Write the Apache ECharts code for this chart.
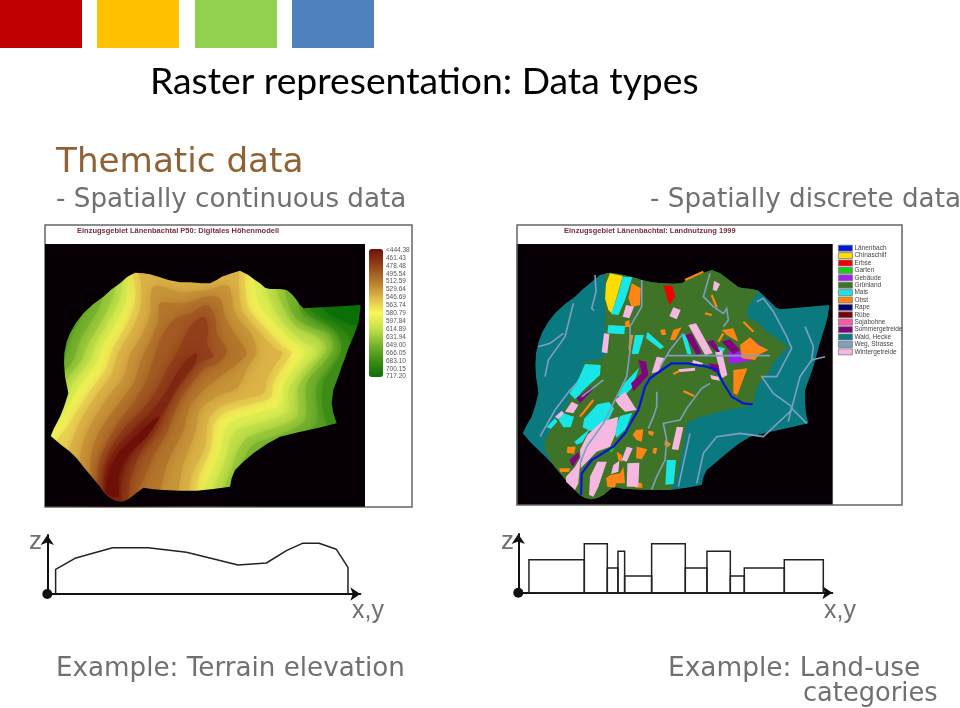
<!DOCTYPE html>
<html>
<head>
<meta charset="utf-8">
<style>
  html, body { margin: 0; padding: 0; background: #fff; overflow: hidden; }
  #chart { width: 960px; height: 708px; }
</style>
</head>
<body>
<div id="chart"></div>
<script src="https://cdn.jsdelivr.net/npm/echarts@6/dist/echarts.min.js"></script>
<script>

// elevation map
var elevTicks = ['<444.38','461.43','478.48','495.54','512.59','529.64','546.69','563.74','580.79','597.84','614.89','631.94','649.00','666.05','683.10','700.15','717.20'];
var elevColors = ['#6e0f08','#92401a','#b5782c','#dcb448','#f8f85a','#c4e04a','#78b32e','#3c8c16','#0c6f06'];
var elevOutline = [240,190,262,170,285,158,310,160,330,163,360,172,385,180,420,187,450,187,485,190,510,190,530,180,545,170,575,160,600,152,625,165,645,180,660,190,675,203,690,207,720,207,740,210,755,222,770,240,780,255,790,265,850,262,962,255,958,290,955,310,940,350,925,385,915,415,905,440,893,475,880,510,875,550,880,580,890,610,830,625,775,637,720,650,680,672,640,700,610,725,585,750,575,775,570,800,520,807,470,812,420,812,370,810,340,808,310,803,290,818,275,830,260,840,245,845,225,842,205,830,190,815,180,800,155,770,130,740,110,715,90,695,60,672,32,648,42,625,60,590,72,560,85,520,80,495,75,470,72,430,73,400,80,365,90,340,108,308,130,280,160,252,190,230,215,208];
var elevBase = [0,60,1000,60,1000,900,0,900];

var westLevels = [597, 614, 631, 649, 666];
var westContours = [
  [258,120,262,215,255,255,226,315,190,375,170,430,125,490,88,550,55,600,20,640,0,640,0,120],
  [245,120,245,210,235,250,205,305,170,365,150,420,105,480,70,535,40,590,10,625,0,625,0,120],
  [225,150,222,220,205,265,175,320,145,370,125,420,85,470,60,510,30,540,0,540,0,150],
  [190,190,175,265,150,310,120,360,100,420,75,450,40,470,0,470,0,190],
  [150,230,120,300,95,350,75,410,60,440,20,440,20,230]
];
var eastLevels = [597, 614, 631, 649, 666, 683, 700, 717];
var eastContours = [
  [640,120,645,190,657,255,705,310,755,360,795,395,760,445,730,495,722,555,650,580,575,605,550,635,540,695,505,775,485,840,1000,840,1000,120],
  [670,120,680,205,700,265,740,320,790,365,835,395,790,450,745,510,742,575,670,605,590,630,570,660,560,710,530,780,510,840,1000,840,1000,120],
  [700,170,715,225,735,270,770,320,825,345,860,385,820,440,775,500,770,590,700,625,620,655,590,700,575,750,550,840,1000,840,1000,170],
  [740,200,745,250,765,290,810,320,865,340,880,385,850,430,800,490,795,600,730,640,640,675,610,720,590,760,575,840,1000,840,1000,200],
  [780,250,790,285,830,300,880,330,905,385,870,440,830,500,830,610,760,660,1000,700,1000,250],
  [790,262,815,290,860,310,895,345,905,390,880,440,850,490,848,560,870,620,1000,620,1000,250],
  [810,265,840,290,880,305,920,340,940,370,1000,360,1000,250],
  [850,260,870,285,905,300,945,315,1000,300,1000,240]
];
var basinLevels = [563, 546, 529, 512, 495, 478, 461, 444];
var basinContours = [
  [285,120,610,120,614,190,626,265,678,328,728,380,755,396,730,438,700,487,692,533,632,553,555,578,522,612,512,685,478,765,455,840,40,900,50,665,82,620,112,570,152,510,197,448,217,388,252,328,280,265,287,215],
  [305,120,590,130,596,195,608,272,660,338,708,388,728,398,705,435,680,480,672,518,620,535,540,560,505,600,495,680,458,760,430,840,90,900,85,700,105,640,130,585,170,525,215,460,235,398,270,338,298,275,305,215],
  [340,200,420,215,500,210,555,195,570,205,585,280,635,345,650,400,630,430,610,470,590,505,530,530,480,570,465,640,430,730,395,840,140,900,120,720,135,650,165,590,205,530,250,470,270,405,305,345,330,285],
  [360,250,430,250,500,230,540,235,555,290,590,350,620,400,580,440,540,470,490,510,450,560,430,630,385,720,340,840,170,880,150,730,170,650,200,600,245,540,285,480,305,415,330,365,355,300],
  [400,300,450,280,500,255,525,290,530,340,560,390,540,425,490,450,440,510,410,560,380,640,340,710,300,800,285,840,190,860,175,740,200,670,240,600,285,540,320,480,340,420,360,360],
  [450,320,490,290,505,320,500,370,520,410,480,425,440,470,400,530,370,590,340,640,300,700,270,780,260,840,200,850,190,760,215,680,265,610,315,560,355,500,385,440,410,400,430,360],
  [440,420,470,400,465,430,420,490,380,560,340,615,290,680,255,740,240,800,245,845,195,840,195,760,225,690,280,630,330,580,375,520,410,460],
  [340,600,360,590,320,650,270,700,235,770,235,830,200,820,205,760,235,700,290,645]
];

// land use map
var landOutline = [240,190,270,165,300,158,320,161,340,165,368,172,395,180,425,187,455,190,490,191,515,190,532,180,550,172,578,160,605,150,630,160,650,175,670,190,685,202,700,205,725,207,745,212,765,230,785,250,797,262,810,268,880,262,958,255,953,290,945,320,935,352,925,385,918,412,910,440,898,475,885,510,885,550,888,580,895,610,830,625,775,637,720,650,685,672,650,700,620,725,590,750,580,772,575,795,530,803,480,810,425,810,370,808,340,806,310,800,295,812,280,825,262,834,245,838,225,834,210,825,192,808,175,790,152,762,130,735,108,712,85,690,60,665,38,640,50,615,65,590,76,556,85,520,82,495,78,470,76,435,78,400,85,368,95,340,113,308,135,280,165,252,195,230,218,208];
var waldInlets = [
  [310,340,355,345,360,400,335,470,300,500,270,470,265,440,290,420],
  [455,555,480,550,470,575,450,578],
  [130,650,170,640,160,690,135,690],
  [650,545,680,548,675,570,650,570],
  [605,322,620,322,618,345,605,345]
];
var gruenland = [
  [285,160,320,161,340,165,368,172,395,180,425,187,455,190,490,191,515,190,532,180,550,172,578,160,605,150,630,160,650,175,670,190,685,202,700,205,725,207,745,212,715,260,710,290,745,310,770,335,835,380,795,420,780,450,740,500,730,555,650,570,570,590,530,610,520,680,495,790,480,810,425,810,370,808,340,806,310,800,295,812,280,825,262,834,245,838,225,834,210,825,192,808,175,790,152,762,130,735,105,690,105,660,125,625,150,590,180,540,190,500,215,470,225,425,270,420,290,400,285,290]
];
var chinaschilf = [[300,160,338,168,322,225,305,280,295,270,285,235,288,190]];
var erbse = [[460,197,487,197,495,230,478,255]];
var garten = [[297,690,315,680,305,698]];
var gebaeude = [[655,395,695,395,730,420,680,430,655,430],[735,365,755,375,745,378]];
var mais = [
  [338,170,367,172,345,240,325,285,303,282,322,228],
  [295,315,345,318,343,343,292,340],
  [375,345,402,345,385,402,365,402],
  [412,335,462,380,452,388,408,355],
  [515,345,527,342,545,403,532,403],
  [225,432,272,435,270,465,228,503,195,538,178,520,205,478],
  [222,597,262,553,297,546,312,565,282,628,240,633,218,622],
  [193,665,240,626,217,667,200,674],
  [330,588,367,578,347,627,320,653,310,635],
  [155,578,192,590,182,622,160,622,146,600],
  [110,620,135,595,142,605,122,627],
  [470,720,498,720,491,792,466,794],
  [343,490,387,443,367,502,340,532,323,527],
  [625,380,645,385,635,405,620,403]
];
var obst = [
  [365,190,392,205,390,255,365,262,355,235],
  [345,305,358,300,360,320,345,322],
  [360,345,370,345,360,400,355,385],
  [450,330,465,328,468,345,455,345],
  [490,330,515,322,495,360,480,360],
  [690,375,720,352,745,375,775,390,745,405,735,420,695,415],
  [670,450,712,445,695,490,682,525,670,520],
  [635,330,670,325,685,365,650,345],
  [378,630,400,628,395,665,380,660,368,645],
  [415,632,432,635,428,648,415,642],
  [380,680,412,688,395,718,378,715],
  [430,683,442,685,437,703,428,698],
  [465,660,483,672,475,682,463,675],
  [172,680,197,680,192,702,170,698],
  [320,695,335,705,338,725,325,720],
  [300,765,330,760,340,740,345,790,318,790,315,803,292,800,288,775],
  [375,785,395,790,398,803,375,803],
  [148,745,180,745,178,755,150,757],
  [210,590,250,540],
  [490,462,510,452],
  [525,180,580,155],
  [605,225,620,262],
  [585,280,605,285],
  [700,305,730,335],
  [520,513,552,528],
  [625,365,640,340]
];
var sommergetreide = [
  [385,420,408,425,415,465,370,515,363,490,395,460],
  [200,535,245,500,248,510,210,550],
  [178,720,205,697,208,710,188,740],
  [525,345,545,340,575,400,560,405],
  [590,365,610,360,630,395,620,397],
  [635,365,660,358,690,390,670,403],
  [595,430,625,435,628,460,610,455]
];
var wintergetreide = [
  [348,255,372,260,358,295,338,290],
  [282,340,298,342,292,400,275,397],
  [490,262,512,270,500,298,478,288],
  [612,182,630,192,620,213,608,210],
  [535,315,558,310,608,400,585,405],
  [615,395,635,390,652,465,635,475],
  [440,410,465,415,445,455,425,460],
  [550,420,580,430,570,438,545,430],
  [505,448,555,443,555,452,510,456],
  [600,465,625,470,630,482,605,478],
  [315,540,345,515,380,570,345,575,325,555],
  [165,575,185,545,205,555,190,580],
  [135,590,155,572,162,580,145,598],
  [275,605,325,590,315,645,300,680,260,695,212,745,210,690,232,645],
  [500,620,520,622,505,690,485,688],
  [350,680,368,685,350,725,335,720],
  [262,725,290,725,265,800,250,830,237,825,240,770],
  [310,735,328,722,325,755,303,762],
  [352,730,388,728,385,800,350,800],
  [168,770,195,740,212,710,205,790,195,810,168,785]
];
var wege = [
  [255,165,258,215,245,265,252,272],
  [105,470,115,420,165,350,185,270,190,250],
  [85,380,120,370,160,340],
  [280,480,215,530],
  [90,650,135,570,180,510,200,490],
  [395,180,395,260,360,320,360,390,350,470,320,530,280,610,230,680,210,730],
  [470,407,780,407],
  [520,340,480,390,450,440],
  [600,160,580,230,610,260,640,280,650,265,655,300,640,320],
  [600,490,575,505,530,565,510,600,460,610,470,660,465,720,440,770,425,808],
  [415,625,430,590,440,560,440,515],
  [740,245,760,235,790,275,830,350,845,385,800,470,755,470,790,520,845,560,835,605],
  [890,610,845,565,870,470,905,420,910,380,885,320],
  [845,570,760,650,690,640,620,650,580,700,560,790],
  [905,420,945,410],
  [505,800,540,640]
];
var laenenbach = [[213,825,215,760,245,720,310,680,345,640,370,595,385,570,405,500,420,475,455,450,485,430,530,430,590,440,620,450,640,490,665,530,700,550,728,553]];

// profiles under the maps
var terrainX = [25,25,83,196,303,418,573,658,718,766,816,868,903,903];
var terrainZ = [0,74,107,139,139,125,87,93,130,152,152,134,80,0];
var stepEdges = [32,198,267,299,319,400,501,566,636,678,798,915];
var stepHeights = [99,147,74,124,50,147,74,124,50,74,99];

function toPairs(flat) {
  var out = [];
  for (var i = 0; i < flat.length; i += 2) out.push([flat[i], flat[i + 1]]);
  return out;
}

// paints a list of flat coordinate lists, two-point entries become strokes
function landSeries(name, list, color, z, lineWidth) {
  return {
    type: 'custom',
    name: name,
    xAxisIndex: 1,
    yAxisIndex: 1,
    coordinateSystem: 'cartesian2d',
    clip: true,
    silent: true,
    z: z,
    itemStyle: { color: color },
    data: list.map(function (p, i) { return [i]; }),
    renderItem: function (params, api) {
      var flat = list[params.dataIndex];
      var points = toPairs(flat).map(function (p) { return api.coord(p); });
      if (lineWidth || flat.length === 4) {
        return { type: 'polyline', shape: { points: points }, style: { fill: null, stroke: color, lineWidth: lineWidth || 2.2 } };
      }
      return { type: 'polygon', shape: { points: points }, style: { fill: color } };
    }
  };
}

var elevBands = [[580, elevBase]];
westLevels.forEach(function (l, i) { elevBands.push([l, westContours[i]]); });
eastLevels.forEach(function (l, i) { elevBands.push([l, eastContours[i]]); });
basinLevels.forEach(function (l, i) { elevBands.push([l, basinContours[i]]); });

// black surround of the catchment: frame one way, outline back the other way
var maskPoints = [[0, 60], [0, 900], [1000, 900], [1000, 60], [0, 60]].concat(toPairs(elevOutline).concat([[elevOutline[0], elevOutline[1]]]), [[0, 60]]);

var landNames = ['Länenbach','Chinaschilf','Erbse','Garten','Gebäude','Grünland','Mais','Obst','Rape','Rübe','Sojabohne','Sommergetreide','Wald, Hecke','Weg, Strasse','Wintergetreide'];

var greyText = '#707070';
function slideText(text, left, top, size, family, color, weight) {
  return { text: text, left: left, top: top, padding: 0, textStyle: { fontSize: size, fontFamily: family, fontWeight: weight || 'normal', color: color } };
}

var chart = echarts.init(document.getElementById('chart'), null, { renderer: 'canvas' });

chart.setOption({
  backgroundColor: '#fff',
  animation: false,
  title: [
    slideText('Raster representation: Data types', 150, 63, 37.3, 'Lato', '#000'),
    slideText('Thematic data', 56, 146, 34.2, 'DejaVu Sans', '#8f6236'),
    slideText('- Spatially continuous data', 56, 187, 26.2, 'DejaVu Sans', greyText),
    slideText('- Spatially discrete data', 650, 187, 26.2, 'DejaVu Sans', greyText),
    slideText('Example: Terrain elevation', 56, 656, 26.2, 'DejaVu Sans', greyText),
    slideText('Example: Land-use', 668, 656, 26.4, 'DejaVu Sans', greyText),
    slideText('categories', 803, 681, 25.7, 'DejaVu Sans', greyText),
    slideText('z', 29, 529, 26, 'Liberation Sans', greyText),
    slideText('x,y', 352, 599, 25, 'Liberation Sans', greyText),
    slideText('z', 501, 529, 26, 'Liberation Sans', greyText),
    slideText('x,y', 824, 599, 25, 'Liberation Sans', greyText),
    slideText('Einzugsgebiet Länenbachtal P50: Digitales Höhenmodell', 77, 227, 7.5, 'Liberation Sans', '#7a2a3a', 'bold'),
    slideText('Einzugsgebiet Länenbachtal: Landnutzung 1999', 564, 227, 7.5, 'Liberation Sans', '#7a2a3a', 'bold')
  ],
  graphic: [
    { type: 'rect', shape: { x: 0, y: 0, width: 82, height: 48 }, style: { fill: '#c00000' } },
    { type: 'rect', shape: { x: 97, y: 0, width: 82, height: 48 }, style: { fill: '#ffc000' } },
    { type: 'rect', shape: { x: 195, y: 0, width: 82, height: 48 }, style: { fill: '#92d050' } },
    { type: 'rect', shape: { x: 292, y: 0, width: 82, height: 48 }, style: { fill: '#4f81bd' } },
    { type: 'rect', shape: { x: 45, y: 225, width: 367, height: 282 }, style: { fill: 'none', stroke: '#666', lineWidth: 1.5 } },
    { type: 'rect', shape: { x: 517, y: 225, width: 385, height: 280 }, style: { fill: 'none', stroke: '#666', lineWidth: 1.5 } }
  ],
  grid: [
    { left: 45.7, top: 244, width: 318.3, height: 262.7, show: true, backgroundColor: '#060006', borderWidth: 0 },
    { left: 516.7, top: 244, width: 316, height: 261, show: true, backgroundColor: '#060006', borderWidth: 0 },
    { left: 384, top: 250, width: 1, height: 126.7 },
    { left: 47.3, top: 535, width: 313, height: 59 },
    { left: 518.3, top: 534, width: 314, height: 58.7 }
  ],
  xAxis: [
    { type: 'value', gridIndex: 0, min: 17, max: 972, show: false },
    { type: 'value', gridIndex: 1, min: 20, max: 968, show: false },
    { type: 'value', gridIndex: 2, show: false },
    {
      type: 'value', gridIndex: 3, min: 0, max: 940,
      axisLine: { onZero: false, symbol: ['circle', 'arrow'], symbolSize: [10, 10], lineStyle: { color: '#111', width: 2 } },
      axisTick: { show: false }, axisLabel: { show: false }, splitLine: { show: false }
    },
    {
      type: 'value', gridIndex: 4, min: 0, max: 942,
      axisLine: { onZero: false, symbol: ['circle', 'arrow'], symbolSize: [10, 10], lineStyle: { color: '#111', width: 2 } },
      axisTick: { show: false }, axisLabel: { show: false }, splitLine: { show: false }
    }
  ],
  yAxis: [
    { type: 'value', gridIndex: 0, min: 72, max: 860, inverse: true, show: false },
    { type: 'value', gridIndex: 1, min: 72, max: 855, inverse: true, show: false },
    {
      type: 'category', gridIndex: 2, data: elevTicks, inverse: true, boundaryGap: false, position: 'right',
      axisLine: { show: false }, axisTick: { show: false }, splitLine: { show: false },
      axisLabel: { interval: 0, margin: 1, fontSize: 6.5, fontFamily: 'Liberation Sans', color: '#555' }
    },
    {
      type: 'value', gridIndex: 3, min: 0, max: 177,
      axisLine: { show: true, onZero: false, symbol: ['none', 'arrow'], symbolSize: [10, 10], lineStyle: { color: '#111', width: 2 } },
      axisTick: { show: false }, axisLabel: { show: false }, splitLine: { show: false }
    },
    {
      type: 'value', gridIndex: 4, min: 0, max: 176,
      axisLine: { show: true, onZero: false, symbol: ['none', 'arrow'], symbolSize: [10, 10], lineStyle: { color: '#111', width: 2 } },
      axisTick: { show: false }, axisLabel: { show: false }, splitLine: { show: false }
    }
  ],
  visualMap: {
    type: 'continuous',
    seriesIndex: 0,
    dimension: 0,
    min: 444.38,
    max: 717.2,
    inverse: true,
    left: 369,
    top: 249,
    padding: 0,
    itemWidth: 14,
    itemHeight: 128,
    calculable: false,
    hoverLink: false,
    inRange: { color: elevColors }
  },
  legend: {
    orient: 'vertical',
    left: 838,
    top: 244.5,
    padding: 0,
    itemWidth: 14,
    itemHeight: 6,
    itemGap: 0,
    selectedMode: false,
    icon: 'rect',
    itemStyle: { borderColor: '#777', borderWidth: 0.8 },
    textStyle: { fontSize: 6.5, fontFamily: 'Liberation Sans', color: '#444', padding: [0, 0, 0, -3], height: 7.4, lineHeight: 7.4 },
    data: landNames
  },
  series: [
    {
      type: 'custom',
      name: 'Höhe',
      xAxisIndex: 0,
      yAxisIndex: 0,
      coordinateSystem: 'cartesian2d',
      clip: true,
      silent: true,
      data: elevBands.map(function (b, i) { return [b[0], i]; }),
      renderItem: function (params, api) {
        var points = toPairs(elevBands[params.dataIndex][1]).map(function (p) { return api.coord(p); });
        var color = api.visual('color');
        // soft contour edges, the map in the picture has no visible bands
        return { type: 'polygon', shape: { points: points, smooth: 0.3 }, style: { fill: color, shadowColor: color, shadowBlur: 14 } };
      }
    },
    {
      type: 'custom',
      name: 'Umgebung',
      xAxisIndex: 0,
      yAxisIndex: 0,
      coordinateSystem: 'cartesian2d',
      clip: true,
      silent: true,
      z: 3,
      data: [[0]],
      renderItem: function (params, api) {
        return { type: 'polygon', shape: { points: maskPoints.map(function (p) { return api.coord(p); }) }, style: { fill: '#060006' } };
      }
    },
    landSeries('Länenbach', laenenbach, '#0018d8', 8, 2.2),
    landSeries('Chinaschilf', chinaschilf, '#ffdc00', 5),
    landSeries('Erbse', erbse, '#f00000', 5),
    landSeries('Garten', garten, '#14d014', 5),
    landSeries('Gebäude', gebaeude, '#a020f0', 5),
    landSeries('Grünland', gruenland, '#3f7428', 3),
    landSeries('Mais', mais, '#19e6e6', 5),
    landSeries('Obst', obst, '#ff8614', 5),
    landSeries('Rape', [], '#000070', 5),
    landSeries('Rübe', [], '#7a0010', 5),
    landSeries('Sojabohne', [], '#ff58a8', 5),
    landSeries('Sommergetreide', sommergetreide, '#800080', 6),
    landSeries('Wald, Hecke', [landOutline].concat(waldInlets), '#0b7a80', 2),
    landSeries('Weg, Strasse', wege, '#7f9fc0', 7, 1.6),
    landSeries('Wintergetreide', wintergetreide, '#f5b8e0', 5),
    {
      type: 'line',
      name: 'Terrain',
      xAxisIndex: 3,
      yAxisIndex: 3,
      data: terrainX.map(function (x, i) { return [x, terrainZ[i]]; }),
      showSymbol: false,
      silent: true,
      lineStyle: { color: '#222', width: 1.5 }
    },
    {
      type: 'custom',
      name: 'Land use',
      xAxisIndex: 4,
      yAxisIndex: 4,
      coordinateSystem: 'cartesian2d',
      silent: true,
      data: stepHeights.map(function (h, i) { return [stepEdges[i], stepEdges[i + 1], h]; }),
      renderItem: function (params, api) {
        var a = api.coord([api.value(0), api.value(2)]);
        var b = api.coord([api.value(1), 0]);
        return { type: 'rect', shape: { x: a[0], y: a[1], width: b[0] - a[0], height: b[1] - a[1] }, style: { fill: null, stroke: '#222', lineWidth: 1.5 } };
      }
    }
  ]
});
</script>
</body>
</html>
